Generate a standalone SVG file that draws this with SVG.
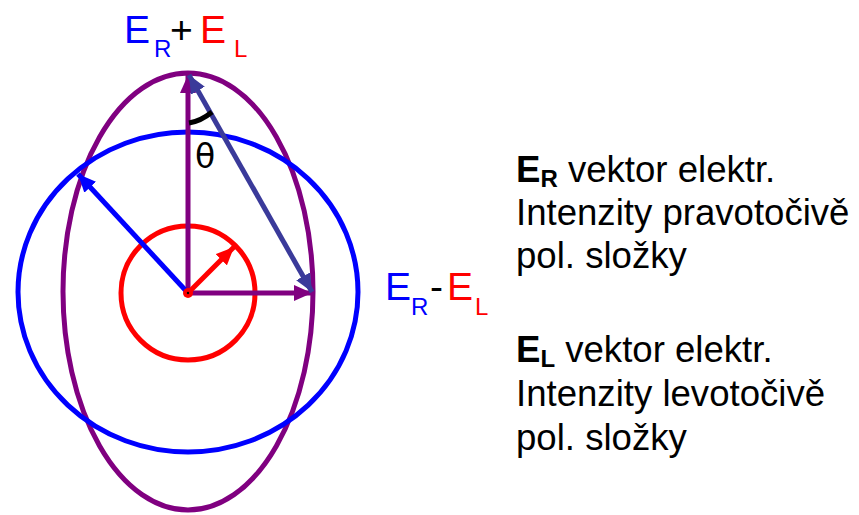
<svg xmlns="http://www.w3.org/2000/svg" width="859" height="515" viewBox="0 0 859 515">
<style>
.ln{fill:none;stroke-width:5;stroke-linecap:butt}
.lbl{font-family:"Liberation Sans",Arial,sans-serif;font-size:39px}
.sub{font-family:"Liberation Sans",Arial,sans-serif;font-size:24px}
.txt{font-family:"Liberation Sans",Arial,sans-serif;font-size:36.6px;fill:#000}
</style>
<defs>
<marker id="aP" markerUnits="userSpaceOnUse" markerWidth="20" markerHeight="16" refX="18" refY="8" orient="auto"><path d="M0,0 L18,8 L0,16 Z" fill="#800080"/></marker>
<marker id="aB" markerUnits="userSpaceOnUse" markerWidth="20" markerHeight="16" refX="18" refY="8" orient="auto"><path d="M0,0 L18,8 L0,16 Z" fill="#0000FF"/></marker>
<marker id="aR" markerUnits="userSpaceOnUse" markerWidth="20" markerHeight="16" refX="18" refY="8" orient="auto"><path d="M0,0 L18,8 L0,16 Z" fill="#FF0000"/></marker>
<marker id="aD" markerUnits="userSpaceOnUse" markerWidth="20" markerHeight="16" refX="18" refY="8" orient="auto-start-reverse"><path d="M0,0 L18,8 L0,16 Z" fill="#3A3A9A"/></marker>
</defs>
<rect width="859" height="515" fill="#fff"/>
<g id="ellipse-sum">
<ellipse cx="188" cy="291.5" rx="125" ry="218.5" class="ln" stroke="#800080"/>
</g>
<g id="circle-right">
<ellipse cx="188" cy="292" rx="170" ry="160" class="ln" stroke="#0000FF"/>
</g>
<g id="circle-left">
<circle cx="188" cy="293" r="67" class="ln" stroke="#FF0000"/>
</g>
<g id="connectors">
<line x1="188" y1="293" x2="188" y2="75" class="ln" stroke="#800080" marker-end="url(#aP)"/>
<line x1="188" y1="293" x2="312" y2="293" class="ln" stroke="#800080" marker-end="url(#aP)"/>
<line x1="188" y1="293" x2="78" y2="174" class="ln" stroke="#0000FF" marker-end="url(#aB)"/>
<line x1="188" y1="293" x2="234" y2="247" class="ln" stroke="#FF0000" marker-end="url(#aR)"/>
<line x1="312" y1="292" x2="189" y2="75" class="ln" stroke="#3A3A9A" marker-start="url(#aD)" marker-end="url(#aD)"/>
<path d="M189,123 Q201,121 212,112" fill="none" stroke="#000" stroke-width="5"/>
<circle cx="188" cy="293" r="5" fill="#FF0000"/>
<circle cx="188" cy="293" r="1.2" fill="#000"/>
</g>
<g id="theta">
<text x="195" y="168" font-family="'DejaVu Sans',sans-serif" font-size="33" fill="#000">θ</text>
</g>
<g id="label-sum">
<text x="124" y="43" class="lbl" fill="#0000FF">E</text>
<text x="154" y="57" class="sub" fill="#0000FF">R</text>
<text x="170" y="43" class="lbl" fill="#000">+</text>
<text x="200" y="43" class="lbl" fill="#FF0000">E</text>
<text x="234" y="57" class="sub" fill="#FF0000">L</text>
</g>
<g id="label-diff">
<text x="385" y="300" class="lbl" fill="#0000FF">E</text>
<text x="411" y="315" class="sub" fill="#0000FF">R</text>
<text x="430" y="300" class="lbl" fill="#000">-</text>
<text x="447" y="300" class="lbl" fill="#FF0000">E</text>
<text x="475" y="315" class="sub" fill="#FF0000">L</text>
</g>
<g id="legend-r">
<text x="516" y="182" class="txt"><tspan font-weight="bold">E</tspan><tspan font-weight="bold" font-size="24" dy="5">R</tspan><tspan dy="-5"> vektor elektr.</tspan></text>
<text x="516" y="225" class="txt">Intenzity pravotočivě</text>
<text x="516" y="268" class="txt">pol. složky</text>
</g>
<g id="legend-l">
<text x="516" y="362" class="txt"><tspan font-weight="bold">E</tspan><tspan font-weight="bold" font-size="24" dy="5">L</tspan><tspan dy="-5"> vektor elektr.</tspan></text>
<text x="516" y="406" class="txt">Intenzity levotočivě</text>
<text x="516" y="450" class="txt">pol. složky</text>
</g>
</svg>
